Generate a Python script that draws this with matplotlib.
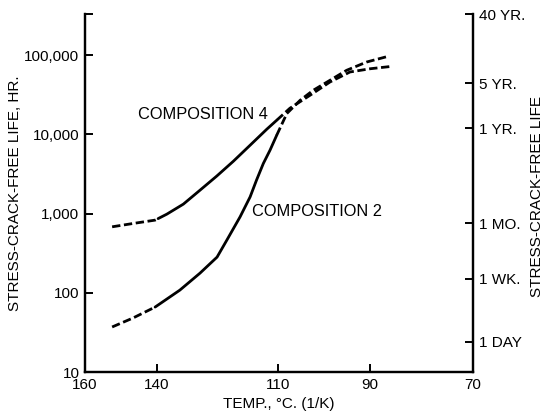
import numpy as np
import matplotlib.pyplot as plt
from matplotlib.ticker import NullLocator

plt.rcParams['font.family'] = ['Liberation Sans', 'DejaVu Sans']

# Values: temperature (deg C), stress-crack-free life (hours)
# Composition 4: dashed (extrapolated) - solid (measured) - dashed
comp4_temp_lo = [152.2, 146.3, 140.4, 139.6]
comp4_life_lo = [680, 750, 826, 863]
comp4_temp_mid = [139.6, 137.3, 133.0, 128.75, 124.6, 120.5, 116.5, 112.6, 110.3]
comp4_life_mid = [863, 982, 1314, 1972, 2964, 4580, 7290, 11590, 15060]
comp4_temp_hi = [110.3, 107.3, 102.8, 98.45, 94.2, 90.0, 85.4]
comp4_life_hi = [15060, 21330, 31130, 45800, 61200, 67200, 72300]

# Composition 2
comp2_temp_lo = [152.2, 146.4, 140.4]
comp2_life_lo = [37, 48, 66]
comp2_temp_mid = [140.4, 133.9, 128.75, 124.5, 122.1, 118.9, 116.5, 115.0, 113.4, 111.85, 110.3]
comp2_life_mid = [66, 108, 177, 282, 462, 908, 1625, 2637, 4285, 6300, 9750]
comp2_temp_hi = [110.3, 108.0, 105.0, 102.1, 98.45, 94.9, 90.7, 86.3]
comp2_life_hi = [9750, 18290, 26900, 35960, 48100, 64300, 81800, 96600]

temp_ticks = [160, 140, 110, 90, 70]
life_ticks = [10, 100, 1000, 10000, 100000]
life_labels = ['10', '100', '1,000', '10,000', '100,000']
time_ticks = [24, 150, 750, 12000, 43800, 330000]
time_labels = ['1 DAY', '1 WK.', '1 MO.', '1 YR.', '5 YR.', '40 YR.']
life_top = 330000


def inv_k(t):
    # x axis is 1/K, labelled in deg C
    return 1.0 / (np.asarray(t, dtype=float) + 273.0)


fig = plt.figure(figsize=(5.47, 4.18), dpi=100)
ax = fig.add_axes([85 / 547, 46 / 418, 388 / 547, 358 / 418])
ax2 = ax.twinx()

lw = 2.0
dash = (3.0, 1.3)
for t, h in [(comp4_temp_lo, comp4_life_lo), (comp4_temp_hi, comp4_life_hi),
             (comp2_temp_lo, comp2_life_lo), (comp2_temp_hi, comp2_life_hi)]:
    ax.plot(inv_k(t), h, color='black', lw=lw, dashes=dash, solid_capstyle='butt')
for t, h in [(comp4_temp_mid, comp4_life_mid), (comp2_temp_mid, comp2_life_mid)]:
    ax.plot(inv_k(t), h, color='black', lw=lw, solid_capstyle='round', solid_joinstyle='round')

ax.set_yscale('log')
ax.set_ylim(10, life_top)
ax.set_xlim(inv_k(160), inv_k(70))
ax.set_yticks(life_ticks + [life_top])
ax.set_yticklabels(life_labels + [''])
ax.yaxis.set_minor_locator(NullLocator())
ax.set_xticks(inv_k(temp_ticks))
ax.set_xticklabels([str(t) for t in temp_ticks])

ax2.set_yscale('log')
ax2.set_ylim(10, life_top)
ax2.set_yticks(time_ticks)
ax2.set_yticklabels(time_labels)
ax2.yaxis.set_minor_locator(NullLocator())

for a in (ax, ax2):
    a.spines['top'].set_visible(False)
    for s in ['left', 'bottom', 'right']:
        a.spines[s].set_linewidth(1.6)
ax.tick_params(axis='both', which='both', direction='in', length=6, width=1.4, labelsize=11, pad=4)
ax2.tick_params(axis='y', which='both', direction='in', length=6, width=1.4, labelsize=11, pad=4)

ax.set_xlabel('TEMP., °C. (1/K)', fontsize=11)
ax.xaxis.set_label_coords(0.5, -0.07)
ax.set_ylabel('STRESS-CRACK-FREE LIFE, HR.', fontsize=11)
ax.yaxis.set_label_coords(-0.162, 0.5)
ax2.set_ylabel('STRESS-CRACK-FREE LIFE', fontsize=11)
ax2.yaxis.set_label_coords(1.147, 0.49)

ax.text(0.137, 0.718, 'COMPOSITION 4', transform=ax.transAxes, fontsize=11.8, va='center', ha='left')
ax.text(0.430, 0.447, 'COMPOSITION 2', transform=ax.transAxes, fontsize=11.8, va='center', ha='left')

fig.savefig('out.png', dpi=100)
